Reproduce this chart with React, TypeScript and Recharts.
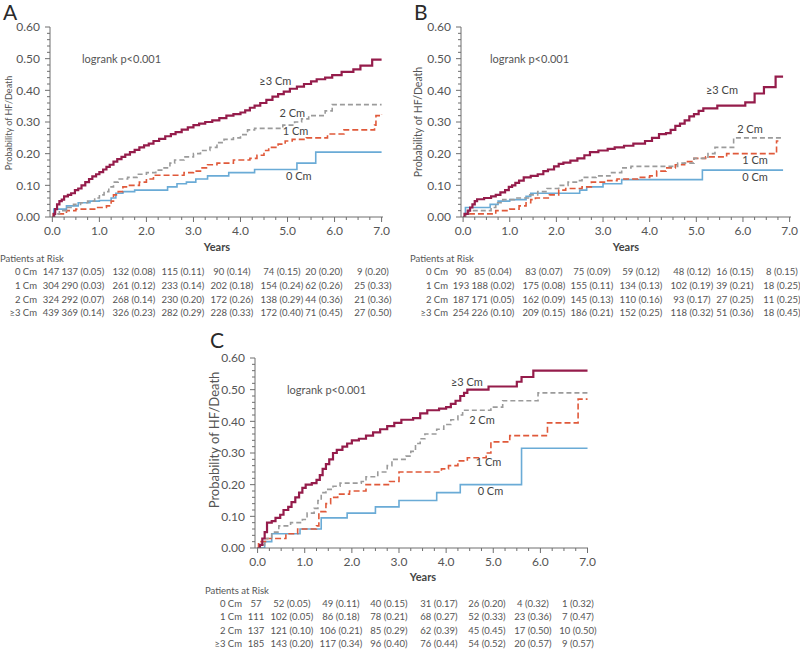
import { LineChart, Line, XAxis, YAxis, ReferenceDot } from 'recharts'

type Pt = [number, number]

const FONT = 'Lato, "Open Sans", sans-serif'
const AXIS = '#6e6e6e'
const TEXT = '#555'

const groups = ['0 Cm', '1 Cm', '2 Cm', '≥3 Cm']
const yearTicks = [0, 1, 2, 3, 4, 5, 6, 7]
const probTicks = [0, 0.1, 0.2, 0.3, 0.4, 0.5, 0.6]

// cumulative HF/death, panel A
const a0: Pt[] = [[0, 0], [0.03, 0.025], [0.3, 0.035], [0.55, 0.045], [0.8, 0.05], [1.0, 0.052], [1.25, 0.06], [1.35, 0.075], [1.5, 0.08], [1.75, 0.085], [2.45, 0.095], [2.65, 0.105], [2.85, 0.11], [3.05, 0.12], [3.3, 0.13], [3.75, 0.14], [4.3, 0.15], [5.2, 0.17], [5.6, 0.205], [7.0, 0.205]]
const a1: Pt[] = [[0, 0], [0.02, 0.01], [0.3, 0.02], [0.5, 0.025], [0.9, 0.03], [1.15, 0.035], [1.25, 0.05], [1.3, 0.07], [1.4, 0.08], [1.5, 0.095], [1.6, 0.1], [1.85, 0.11], [2.0, 0.12], [2.15, 0.132], [2.8, 0.14], [3.0, 0.145], [3.15, 0.155], [3.3, 0.165], [3.5, 0.17], [3.85, 0.18], [4.2, 0.185], [4.35, 0.195], [4.5, 0.21], [4.6, 0.22], [4.8, 0.23], [4.95, 0.24], [5.1, 0.245], [5.4, 0.25], [5.85, 0.262], [6.2, 0.275], [6.85, 0.29], [6.88, 0.32], [7.0, 0.325]]
const a2: Pt[] = [[0, 0], [0.05, 0.01], [0.15, 0.02], [0.3, 0.03], [0.45, 0.04], [0.6, 0.045], [0.75, 0.05], [0.9, 0.06], [1.0, 0.07], [1.1, 0.08], [1.2, 0.095], [1.3, 0.11], [1.4, 0.12], [1.6, 0.125], [1.8, 0.135], [2.0, 0.14], [2.2, 0.148], [2.35, 0.155], [2.5, 0.17], [2.6, 0.18], [2.8, 0.19], [3.0, 0.2], [3.15, 0.21], [3.35, 0.22], [3.5, 0.235], [3.65, 0.245], [3.85, 0.25], [4.0, 0.26], [4.15, 0.275], [4.3, 0.28], [4.9, 0.29], [5.15, 0.3], [5.3, 0.31], [5.45, 0.32], [5.8, 0.335], [5.95, 0.355], [7.0, 0.355]]
const a3: Pt[] = [[0, 0], [0.03, 0.01], [0.06, 0.025], [0.1, 0.04], [0.15, 0.05], [0.2, 0.055], [0.25, 0.065], [0.33, 0.07], [0.4, 0.075], [0.48, 0.085], [0.55, 0.09], [0.62, 0.1], [0.7, 0.11], [0.78, 0.12], [0.85, 0.128], [0.93, 0.135], [1.0, 0.142], [1.08, 0.15], [1.15, 0.158], [1.22, 0.165], [1.3, 0.175], [1.38, 0.183], [1.47, 0.19], [1.55, 0.197], [1.65, 0.205], [1.75, 0.212], [1.85, 0.22], [1.95, 0.226], [2.05, 0.232], [2.15, 0.24], [2.27, 0.247], [2.4, 0.255], [2.52, 0.262], [2.62, 0.268], [2.75, 0.276], [2.88, 0.283], [3.0, 0.29], [3.12, 0.295], [3.25, 0.3], [3.4, 0.305], [3.55, 0.312], [3.7, 0.32], [3.85, 0.325], [4.0, 0.33], [4.1, 0.337], [4.2, 0.345], [4.3, 0.352], [4.42, 0.36], [4.55, 0.37], [4.68, 0.38], [4.8, 0.388], [4.92, 0.396], [5.05, 0.405], [5.2, 0.412], [5.35, 0.42], [5.5, 0.428], [5.62, 0.435], [5.8, 0.44], [5.95, 0.448], [6.15, 0.458], [6.4, 0.466], [6.55, 0.478], [6.8, 0.497], [7.0, 0.497]]

// panel B
const b0: Pt[] = [[0, 0], [0.05, 0.03], [0.58, 0.04], [0.75, 0.05], [1.0, 0.055], [1.35, 0.065], [1.45, 0.075], [2.5, 0.085], [2.65, 0.095], [3.0, 0.105], [3.4, 0.118], [5.13, 0.148], [6.86, 0.148]]
const b1: Pt[] = [[0, 0], [0.05, 0.01], [0.7, 0.02], [1.0, 0.025], [1.2, 0.035], [1.35, 0.045], [1.45, 0.055], [1.55, 0.06], [1.85, 0.07], [2.05, 0.085], [2.2, 0.09], [2.55, 0.095], [2.75, 0.11], [3.1, 0.115], [3.3, 0.12], [3.75, 0.125], [4.0, 0.13], [4.15, 0.145], [4.35, 0.155], [4.55, 0.165], [4.75, 0.175], [4.95, 0.185], [5.2, 0.19], [5.65, 0.2], [6.72, 0.24], [6.76, 0.24]]
const b2: Pt[] = [[0, 0], [0.05, 0.01], [0.12, 0.02], [0.6, 0.03], [0.7, 0.045], [0.85, 0.055], [1.1, 0.06], [1.4, 0.07], [1.6, 0.08], [1.8, 0.09], [2.05, 0.1], [2.25, 0.11], [2.45, 0.115], [2.55, 0.125], [2.85, 0.13], [3.15, 0.14], [3.4, 0.155], [3.6, 0.16], [4.6, 0.17], [4.95, 0.185], [5.25, 0.2], [5.4, 0.22], [5.8, 0.25], [6.86, 0.25]]
const b3: Pt[] = [[0, 0], [0.03, 0.01], [0.1, 0.02], [0.15, 0.03], [0.2, 0.04], [0.25, 0.05], [0.3, 0.056], [0.45, 0.06], [0.6, 0.065], [0.7, 0.07], [0.8, 0.078], [0.9, 0.085], [0.98, 0.095], [1.05, 0.1], [1.12, 0.108], [1.2, 0.115], [1.3, 0.125], [1.45, 0.13], [1.6, 0.135], [1.72, 0.145], [1.82, 0.15], [1.95, 0.16], [2.05, 0.168], [2.15, 0.172], [2.3, 0.178], [2.45, 0.185], [2.6, 0.195], [2.72, 0.205], [2.9, 0.21], [3.1, 0.215], [3.25, 0.22], [3.45, 0.225], [3.65, 0.232], [3.9, 0.24], [4.05, 0.25], [4.2, 0.262], [4.35, 0.265], [4.45, 0.275], [4.55, 0.288], [4.65, 0.295], [4.75, 0.305], [4.85, 0.318], [4.95, 0.325], [5.05, 0.335], [5.15, 0.343], [5.45, 0.352], [6.05, 0.362], [6.25, 0.39], [6.45, 0.41], [6.7, 0.443], [6.86, 0.443]]

// panel C
const c0: Pt[] = [[0, 0], [0.15, 0.02], [0.3, 0.045], [0.9, 0.06], [1.35, 0.095], [1.9, 0.11], [2.5, 0.13], [3.0, 0.15], [3.8, 0.175], [4.3, 0.2], [5.6, 0.315], [7.0, 0.315]]
const c1: Pt[] = [[0, 0], [0.02, 0.02], [0.2, 0.03], [0.6, 0.045], [0.85, 0.06], [1.25, 0.07], [1.3, 0.115], [1.45, 0.14], [1.55, 0.16], [1.7, 0.17], [1.95, 0.18], [2.3, 0.2], [2.8, 0.21], [3.0, 0.24], [3.9, 0.25], [4.05, 0.26], [4.25, 0.275], [4.45, 0.285], [4.85, 0.3], [4.95, 0.335], [5.35, 0.355], [6.15, 0.395], [6.8, 0.47], [7.0, 0.47]]
const c2: Pt[] = [[0, 0], [0.05, 0.01], [0.15, 0.03], [0.3, 0.05], [0.45, 0.07], [0.7, 0.08], [0.95, 0.09], [1.05, 0.11], [1.2, 0.125], [1.28, 0.15], [1.35, 0.175], [1.45, 0.185], [1.6, 0.195], [1.75, 0.205], [2.2, 0.21], [2.3, 0.225], [2.55, 0.24], [2.75, 0.26], [2.85, 0.28], [3.15, 0.29], [3.25, 0.305], [3.35, 0.33], [3.45, 0.345], [3.55, 0.36], [3.8, 0.375], [3.95, 0.39], [4.1, 0.405], [4.25, 0.42], [4.35, 0.435], [4.95, 0.445], [5.2, 0.465], [5.95, 0.49], [7.0, 0.49]]
const c3: Pt[] = [[0, 0], [0.05, 0.01], [0.1, 0.03], [0.15, 0.05], [0.2, 0.08], [0.3, 0.085], [0.38, 0.095], [0.48, 0.105], [0.55, 0.12], [0.65, 0.13], [0.72, 0.145], [0.8, 0.16], [0.88, 0.175], [0.95, 0.19], [1.02, 0.2], [1.15, 0.205], [1.25, 0.215], [1.32, 0.23], [1.38, 0.25], [1.45, 0.265], [1.52, 0.28], [1.6, 0.3], [1.68, 0.31], [1.8, 0.32], [1.9, 0.33], [2.0, 0.34], [2.15, 0.345], [2.3, 0.355], [2.45, 0.365], [2.6, 0.375], [2.75, 0.385], [2.9, 0.395], [3.05, 0.405], [3.3, 0.41], [3.45, 0.425], [3.6, 0.435], [3.85, 0.44], [4.0, 0.445], [4.1, 0.455], [4.2, 0.465], [4.3, 0.48], [4.38, 0.49], [4.45, 0.5], [4.9, 0.51], [5.5, 0.525], [5.6, 0.54], [5.85, 0.56], [7.0, 0.56]]

// patients at risk (years 0..7) and cumulative rate (years 1..7)
const riskA = [[147, 137, 132, 115, 90, 74, 20, 9], [304, 290, 261, 233, 202, 154, 62, 25], [324, 292, 268, 230, 172, 138, 44, 21], [439, 369, 326, 282, 228, 172, 71, 27]]
const rateA = [[0.05, 0.08, 0.11, 0.14, 0.15, 0.2, 0.2], [0.03, 0.12, 0.14, 0.18, 0.24, 0.26, 0.33], [0.07, 0.14, 0.2, 0.26, 0.29, 0.36, 0.36], [0.14, 0.23, 0.29, 0.33, 0.4, 0.45, 0.5]]
const riskB = [[90, 85, 83, 75, 59, 48, 16, 8], [193, 188, 175, 155, 134, 102, 39, 18], [187, 171, 162, 145, 110, 93, 27, 11], [254, 226, 209, 186, 152, 118, 51, 18]]
const rateB = [[0.04, 0.07, 0.09, 0.12, 0.12, 0.15, 0.15], [0.02, 0.08, 0.11, 0.13, 0.19, 0.21, 0.25], [0.05, 0.09, 0.13, 0.16, 0.17, 0.25, 0.25], [0.1, 0.15, 0.21, 0.25, 0.32, 0.36, 0.45]]
const riskC = [[57, 52, 49, 40, 31, 26, 4, 1], [111, 102, 86, 78, 68, 52, 23, 7], [137, 121, 106, 85, 62, 45, 17, 10], [185, 143, 117, 96, 76, 54, 20, 9]]
const rateC = [[0.05, 0.11, 0.15, 0.17, 0.2, 0.32, 0.32], [0.05, 0.18, 0.21, 0.27, 0.33, 0.36, 0.47], [0.1, 0.21, 0.29, 0.39, 0.45, 0.5, 0.5], [0.2, 0.34, 0.4, 0.44, 0.52, 0.57, 0.57]]

const styles = [
  { stroke: '#6aabd6', width: 1.6, dash: undefined },
  { stroke: '#e0593a', width: 1.6, dash: '6 3' },
  { stroke: '#9b9b9b', width: 1.6, dash: '5 3' },
  { stroke: '#951c4b', width: 2.2, dash: undefined },
]

// ticks: every quarter year on x, every 0.02 on y; labels only on yearTicks / probTicks
const xMinor = Array.from({ length: 29 }, (_, i) => i * 0.25)
const yMinor = Array.from({ length: 31 }, (_, i) => Math.round(i * 2) / 100)
const isIn = (list: number[], v: number) => list.some((t) => Math.abs(t - v) < 1e-6)

const XTick = (props: any) => {
  const { x, y, payload } = props
  const v = payload.value
  const major = isIn(yearTicks, v)
  return (
    <g>
      <line x1={x} x2={x} y1={y} y2={y + (major ? 5 : 3)} stroke={AXIS} />
      {major && (
        <text x={x} y={y + 14} dy="0.35em" textAnchor="middle" fontSize={12} fill={TEXT} fontFamily={FONT}>
          {v.toFixed(1)}
        </text>
      )}
    </g>
  )
}

const YTick = (props: any) => {
  const { x, y, payload } = props
  const v = payload.value
  const major = isIn(probTicks, v)
  return (
    <g>
      <line x1={x} x2={x - (major ? 5 : 3)} y1={y} y2={y} stroke={AXIS} />
      {major && (
        <text x={x - 10} y={y} dy="0.35em" textAnchor="end" fontSize={12} fill={TEXT} fontFamily={FONT}>
          {v.toFixed(2)}
        </text>
      )}
    </g>
  )
}

interface PanelProps {
  left: number
  top: number
  width: number
  right: number
  xDomain: [number, number]
  curves: Pt[][]
  labels: Pt[]
}

function Panel({ left, top, width, right, xDomain, curves, labels }: PanelProps) {
  return (
    <div style={{ position: 'absolute', left, top }}>
      <LineChart width={width} height={240} margin={{ top: 27, right, bottom: 3, left: 0 }}>
        <XAxis type="number" dataKey="t" domain={xDomain} ticks={xMinor} interval={0} allowDataOverflow
          tickLine={false} tickSize={0} tickMargin={0} tick={XTick} stroke={AXIS} height={20} />
        <YAxis type="number" domain={[0, 0.6]} ticks={yMinor} interval={0} allowDataOverflow
          tickLine={false} tickSize={0} tickMargin={0} tick={YTick} stroke={AXIS} width={50} />
        {curves.map((c, i) => (
          <Line key={groups[i]} data={c.map(([t, p]) => ({ t, p }))} dataKey="p" type="stepAfter"
            stroke={styles[i].stroke} strokeWidth={styles[i].width} strokeDasharray={styles[i].dash}
            dot={false} activeDot={false} isAnimationActive={false} />
        ))}
        {labels.map(([t, p], i) => (
          <ReferenceDot key={groups[i]} x={t} y={p} r={0} fill="none" stroke="none" ifOverflow="visible"
            label={{ value: groups[i], position: 'center', fontSize: 11, fill: '#444', fontFamily: FONT }} />
        ))}
      </LineChart>
    </div>
  )
}

interface TableProps {
  headerX: number
  headerY: number
  rowY: number[]
  labelRight: number
  cols: number[]
  risk: number[][]
  rate: number[][]
}

function RiskTable({ headerX, headerY, rowY, labelRight, cols, risk, rate }: TableProps) {
  return (
    <g fontFamily={FONT} fontSize={9.5} fill={TEXT}>
      <text x={headerX} y={headerY} dy="0.35em">Patients at Risk</text>
      {groups.map((g, r) => (
        <g key={g}>
          <text x={labelRight} y={rowY[r]} dy="0.35em" textAnchor="end">{g}</text>
          {risk[r].map((n, c) => (
            <text key={c} x={cols[c]} y={rowY[r]} dy="0.35em" textAnchor="middle">
              {c === 0 ? `${n}` : `${n} (${rate[r][c - 1].toFixed(2)})`}
            </text>
          ))}
        </g>
      ))}
    </g>
  )
}

export default function App() {
  return (
    <div style={{ position: 'absolute', left: 0, top: 0, width: 800, height: 649, background: '#fff', fontFamily: FONT }}>
      <Panel left={0} top={0} width={400} right={17} xDomain={[-0.05, 7.03]} curves={[a0, a1, a2, a3]}
        labels={[[5.24, 0.13], [5.17, 0.27], [5.1, 0.327], [4.74, 0.428]]} />
      <Panel left={411} top={0} width={389} right={9} xDomain={[-0.045, 7.03]} curves={[b0, b1, b2, b3]}
        labels={[[6.26, 0.127], [6.26, 0.18], [6.15, 0.277], [5.55, 0.4]]} />
      <Panel left={205} top={331} width={400} right={17} xDomain={[-0.055, 7.01]} curves={[c0, c1, c2, c3]}
        labels={[[4.94, 0.18], [4.9, 0.27], [4.76, 0.405], [4.44, 0.524]]} />
      <svg width={800} height={649} style={{ position: 'absolute', left: 0, top: 0, pointerEvents: 'none' }}>
        <g fontFamily={FONT} fill="#2a2a2a" fontSize={21}>
          <text x={3} y={20}>A</text>
          <text x={414} y={20}>B</text>
          <text x={210} y={348}>C</text>
        </g>
        <g fontFamily={FONT} fill={TEXT} fontSize={11}>
          <text x={82} y={59} dy="0.35em">logrank p&lt;0.001</text>
          <text x={490} y={59} dy="0.35em">logrank p&lt;0.001</text>
          <text x={287} y={390} dy="0.35em">logrank p&lt;0.001</text>
        </g>
        <g fontFamily={FONT} fill="#444" fontSize={11} fontWeight="bold" textAnchor="middle">
          <text x={217} y={247} dy="0.35em">Years</text>
          <text x={626} y={247} dy="0.35em">Years</text>
          <text x={423} y={577} dy="0.35em">Years</text>
        </g>
        <g fontFamily={FONT} fill={TEXT} textAnchor="middle">
          <text transform="translate(9,123) rotate(-90)" dy="0.35em" fontSize={9}>Probability of HF/Death</text>
          <text transform="translate(418,122) rotate(-90)" dy="0.35em" fontSize={10.5}>Probability of HF/Death</text>
          <text transform="translate(214,440) rotate(-90)" dy="0.35em" fontSize={13}>Probability of HF/Death</text>
        </g>
        <RiskTable headerX={0} headerY={259} rowY={[272, 286, 299.5, 313]} labelRight={37}
          cols={[51, 83, 134, 183, 232, 282, 324, 373]} risk={riskA} rate={rateA} />
        <RiskTable headerX={410} headerY={259} rowY={[272, 286, 299.5, 313]} labelRight={448}
          cols={[461, 493, 544, 592, 641, 692, 735, 782]} risk={riskB} rate={rateB} />
        <RiskTable headerX={205} headerY={591} rowY={[603.5, 617, 630.5, 643.5]} labelRight={242}
          cols={[256, 292, 341, 389, 439, 487, 533, 578]} risk={riskC} rate={rateC} />
      </svg>
    </div>
  )
}
